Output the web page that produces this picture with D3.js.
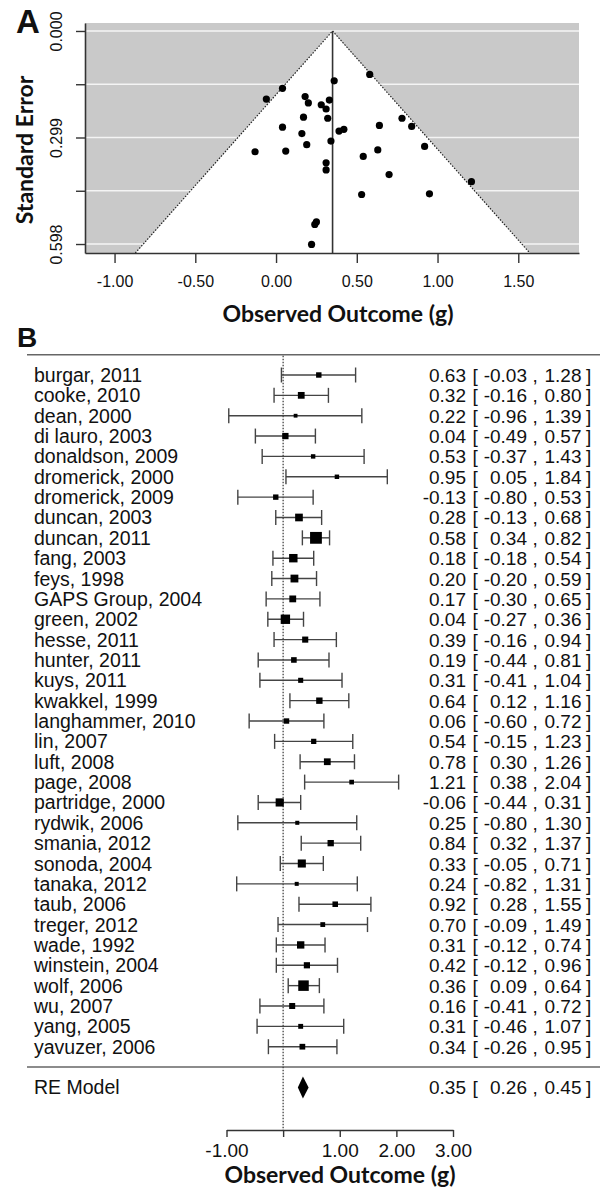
<!DOCTYPE html>
<html>
<head>
<meta charset="utf-8">
<script src="https://cdn.jsdelivr.net/npm/d3@7"></script>
<style>
  body { margin: 0; background: white; }
  svg text { font-family: "Liberation Sans", Arial, sans-serif; fill: #111; }
  .title { font-family: Lato, "Open Sans", sans-serif; font-weight: bold; }
</style>
</head>
<body>
<div id="chart"></div>
<script>
// study data
var studies = ["burgar, 2011", "cooke, 2010", "dean, 2000", "di lauro, 2003", "donaldson, 2009",
  "dromerick, 2000", "dromerick, 2009", "duncan, 2003", "duncan, 2011", "fang, 2003", "feys, 1998",
  "GAPS Group, 2004", "green, 2002", "hesse, 2011", "hunter, 2011", "kuys, 2011", "kwakkel, 1999",
  "langhammer, 2010", "lin, 2007", "luft, 2008", "page, 2008", "partridge, 2000", "rydwik, 2006",
  "smania, 2012", "sonoda, 2004", "tanaka, 2012", "taub, 2006", "treger, 2012", "wade, 1992",
  "winstein, 2004", "wolf, 2006", "wu, 2007", "yang, 2005", "yavuzer, 2006"];
var estimates = [0.63, 0.32, 0.22, 0.04, 0.53, 0.95, -0.13, 0.28, 0.58, 0.18, 0.20, 0.17, 0.04, 0.39,
  0.19, 0.31, 0.64, 0.06, 0.54, 0.78, 1.21, -0.06, 0.25, 0.84, 0.33, 0.24, 0.92, 0.70, 0.31, 0.42,
  0.36, 0.16, 0.31, 0.34];
var lowerCI = [-0.03, -0.16, -0.96, -0.49, -0.37, 0.05, -0.80, -0.13, 0.34, -0.18, -0.20, -0.30, -0.27,
  -0.16, -0.44, -0.41, 0.12, -0.60, -0.15, 0.30, 0.38, -0.44, -0.80, 0.32, -0.05, -0.82, 0.28, -0.09,
  -0.12, -0.12, 0.09, -0.41, -0.46, -0.26];
var upperCI = [1.28, 0.80, 1.39, 0.57, 1.43, 1.84, 0.53, 0.68, 0.82, 0.54, 0.59, 0.65, 0.36, 0.94,
  0.81, 1.04, 1.16, 0.72, 1.23, 1.26, 2.04, 0.31, 1.30, 1.37, 0.71, 1.31, 1.55, 1.49, 0.74, 0.96,
  0.64, 0.72, 1.07, 0.95];
// standard errors (funnel plot y values)
var stdErrors = [0.334, 0.245, 0.599, 0.270, 0.459, 0.457, 0.339, 0.207, 0.122, 0.184, 0.202, 0.242,
  0.161, 0.281, 0.319, 0.370, 0.265, 0.337, 0.352, 0.245, 0.423, 0.191, 0.536, 0.268, 0.194, 0.543,
  0.324, 0.403, 0.219, 0.276, 0.140, 0.288, 0.390, 0.309];

var pooledEstimate = 0.35;
var pooledCI = [0.26, 0.45];

var funnelXTicks = [-1, -0.5, 0, 0.5, 1, 1.5];
var funnelYTicks = [0, 0.1495, 0.299, 0.4485, 0.598];
var funnelYLabels = ["0.000", "", "0.299", "", "0.598"];
var forestTicks = [-1, 0, 1, 2, 3];
var forestTickLabels = ["-1.00", "", "1.00", "2.00", "3.00"];

var svgWidth = 601;
var svgHeight = 1196;

var svg = d3.select("#chart")
  .append("svg")
  .attr("width", svgWidth)
  .attr("height", svgHeight);

svg.append("rect")
  .attr("width", svgWidth)
  .attr("height", svgHeight)
  .attr("fill", "white");

// ---------- Panel A: funnel plot ----------
var fx = d3.scaleLinear().domain([-1.183, 1.876]).range([85, 579]);
var fy = d3.scaleLinear().domain([-0.0224, 0.6232]).range([23, 253]);
var seMax = fy.domain()[1];

var funnel = svg.append("g");

funnel.append("rect")
  .attr("x", fx.range()[0])
  .attr("y", fy.range()[0])
  .attr("width", fx.range()[1] - fx.range()[0])
  .attr("height", fy.range()[1] - fy.range()[0])
  .attr("fill", "#c9c9c9");

funnel.selectAll(".grid")
  .data(funnelYTicks)
  .enter()
  .append("line")
  .attr("x1", fx.range()[0])
  .attr("x2", fx.range()[1])
  .attr("y1", d => fy(d))
  .attr("y2", d => fy(d))
  .attr("stroke", "#f4f4f4")
  .attr("stroke-width", 1.5);

var tri = [[pooledEstimate - 1.96 * seMax, seMax], [pooledEstimate, 0], [pooledEstimate + 1.96 * seMax, seMax]];
var triLine = d3.line().x(d => fx(d[0])).y(d => fy(d[1]));

funnel.append("path")
  .attr("d", triLine(tri) + "Z")
  .attr("fill", "white");

funnel.append("path")
  .attr("d", triLine(tri))
  .attr("fill", "none")
  .attr("stroke", "#222")
  .attr("stroke-width", 1.2)
  .attr("stroke-dasharray", "1.5,1.5");

funnel.append("line")
  .attr("x1", fx(pooledEstimate))
  .attr("x2", fx(pooledEstimate))
  .attr("y1", fy(0))
  .attr("y2", fy(seMax))
  .attr("stroke", "#333")
  .attr("stroke-width", 1.6);

funnel.selectAll("circle")
  .data(estimates)
  .enter()
  .append("circle")
  .attr("cx", d => fx(d))
  .attr("cy", (d, i) => fy(stdErrors[i]))
  .attr("r", 3.6)
  .attr("fill", "black");

var fxAxis = d3.axisBottom(fx)
  .tickValues(funnelXTicks)
  .tickFormat(d => d.toFixed(2))
  .tickSize(10)
  .tickSizeOuter(0)
  .tickPadding(13);

var fxG = funnel.append("g")
  .attr("transform", `translate(0, ${fy.range()[1]})`)
  .call(fxAxis);

var fyAxis = d3.axisLeft(fy)
  .tickValues(funnelYTicks)
  .tickFormat((d, i) => funnelYLabels[i])
  .tickSize(9)
  .tickSizeOuter(0);

var fyG = funnel.append("g")
  .attr("transform", `translate(${fx.range()[0]}, 0)`)
  .call(fyAxis);

fyG.selectAll(".tick text")
  .attr("transform", "rotate(-90)")
  .attr("text-anchor", "middle")
  .attr("x", 0)
  .attr("y", -23)
  .attr("dy", 0);

[fxG, fyG].forEach(function(g) {
  g.attr("font-size", 16).attr("font-family", null);
  g.select(".domain").attr("stroke", "#333").attr("stroke-width", 1.6);
  g.selectAll(".tick line").attr("stroke", "#333").attr("stroke-width", 1.4);
});

funnel.append("text")
  .attr("class", "title")
  .attr("x", 338)
  .attr("y", 322)
  .attr("text-anchor", "middle")
  .attr("font-size", "23px")
  .text("Observed Outcome (g)");

funnel.append("text")
  .attr("class", "title")
  .attr("transform", "translate(33, 150) rotate(-90)")
  .attr("text-anchor", "middle")
  .attr("font-size", "23px")
  .text("Standard Error");

svg.append("text")
  .attr("x", 16)
  .attr("y", 33)
  .attr("font-size", "33px")
  .attr("font-weight", "bold")
  .text("A");

// ---------- Panel B: forest plot ----------
var bx = d3.scaleLinear().domain([-1, 3]).range([226.5, 453]);
var by = d3.scaleLinear().domain([0, 33]).range([375, 1046.7]);
var sizeScale = d3.scaleLinear()
  .domain(d3.extent(stdErrors, s => 1 / s))
  .range([3.8, 11.8]);

var forest = svg.append("g");

svg.append("text")
  .attr("x", 17)
  .attr("y", 347)
  .attr("font-size", "28px")
  .attr("font-weight", "bold")
  .text("B");

// horizontal rules
[-1, studies.length].forEach(function(r) {
  forest.append("line")
    .attr("x1", 27)
    .attr("x2", 600)
    .attr("y1", by(r))
    .attr("y2", by(r))
    .attr("stroke", "#666")
    .attr("stroke-width", 1.5);
});

// reference line at zero
forest.append("line")
  .attr("x1", bx(0))
  .attr("x2", bx(0))
  .attr("y1", by(-1) + 1)
  .attr("y2", 1130)
  .attr("stroke", "#333")
  .attr("stroke-width", 1.2)
  .attr("stroke-dasharray", "1.5,1.5");

var rows = forest.selectAll(".row")
  .data(studies)
  .enter()
  .append("g")
  .attr("class", "row")
  .attr("transform", (d, i) => `translate(0, ${by(i)})`);

rows.append("line")
  .attr("x1", (d, i) => bx(lowerCI[i]))
  .attr("x2", (d, i) => bx(upperCI[i]))
  .attr("stroke", "#444")
  .attr("stroke-width", 1.4);

rows.append("line")
  .attr("x1", (d, i) => bx(lowerCI[i]))
  .attr("x2", (d, i) => bx(lowerCI[i]))
  .attr("y1", -7.5)
  .attr("y2", 7.5)
  .attr("stroke", "#444")
  .attr("stroke-width", 1.4);

rows.append("line")
  .attr("x1", (d, i) => bx(upperCI[i]))
  .attr("x2", (d, i) => bx(upperCI[i]))
  .attr("y1", -7.5)
  .attr("y2", 7.5)
  .attr("stroke", "#444")
  .attr("stroke-width", 1.4);

rows.append("rect")
  .attr("x", (d, i) => bx(estimates[i]) - sizeScale(1 / stdErrors[i]) / 2)
  .attr("y", (d, i) => -sizeScale(1 / stdErrors[i]) / 2)
  .attr("width", (d, i) => sizeScale(1 / stdErrors[i]))
  .attr("height", (d, i) => sizeScale(1 / stdErrors[i]))
  .attr("fill", "black");

function addRowText(g, label, est, lb, ub) {
  g.append("text").attr("x", 34).attr("y", 7).attr("font-size", "19.5px").text(label);
  g.append("text").attr("x", 466).attr("y", 7).attr("font-size", "19px").attr("text-anchor", "end").text(est.toFixed(2));
  g.append("text").attr("x", 472.5).attr("y", 7).attr("font-size", "19px").text("[");
  g.append("text").attr("x", 527).attr("y", 7).attr("font-size", "19px").attr("text-anchor", "end").text(lb.toFixed(2));
  g.append("text").attr("x", 532.5).attr("y", 7).attr("font-size", "19px").text(",");
  g.append("text").attr("x", 581.5).attr("y", 7).attr("font-size", "19px").attr("text-anchor", "end").text(ub.toFixed(2));
  g.append("text").attr("x", 586).attr("y", 7).attr("font-size", "19px").text("]");
}

rows.each(function(d, i) {
  addRowText(d3.select(this), d, estimates[i], lowerCI[i], upperCI[i]);
});

// pooled (RE model) row
var pooledRow = forest.append("g")
  .attr("transform", `translate(0, ${by(studies.length + 1)})`);

pooledRow.append("path")
  .attr("d", d3.line()([
    [bx(pooledCI[0]), 0], [bx(pooledEstimate), -11],
    [bx(pooledCI[1]), 0], [bx(pooledEstimate), 11]
  ]) + "Z")
  .attr("fill", "black");

addRowText(pooledRow, "RE Model", pooledEstimate, pooledCI[0], pooledCI[1]);

var bxAxis = d3.axisBottom(bx)
  .tickValues(forestTicks)
  .tickFormat((d, i) => forestTickLabels[i])
  .tickSize(7)
  .tickSizeOuter(0)
  .tickPadding(7);

var bxG = forest.append("g")
  .attr("transform", "translate(0, 1130)")
  .call(bxAxis);

bxG.attr("font-size", 19).attr("font-family", null);
bxG.select(".domain").attr("stroke", "#333").attr("stroke-width", 1.5);
bxG.selectAll(".tick line").attr("stroke", "#333").attr("stroke-width", 1.4);

forest.append("text")
  .attr("class", "title")
  .attr("x", 340)
  .attr("y", 1183)
  .attr("text-anchor", "middle")
  .attr("font-size", "23px")
  .text("Observed Outcome (g)");
</script>
</body>
</html>
